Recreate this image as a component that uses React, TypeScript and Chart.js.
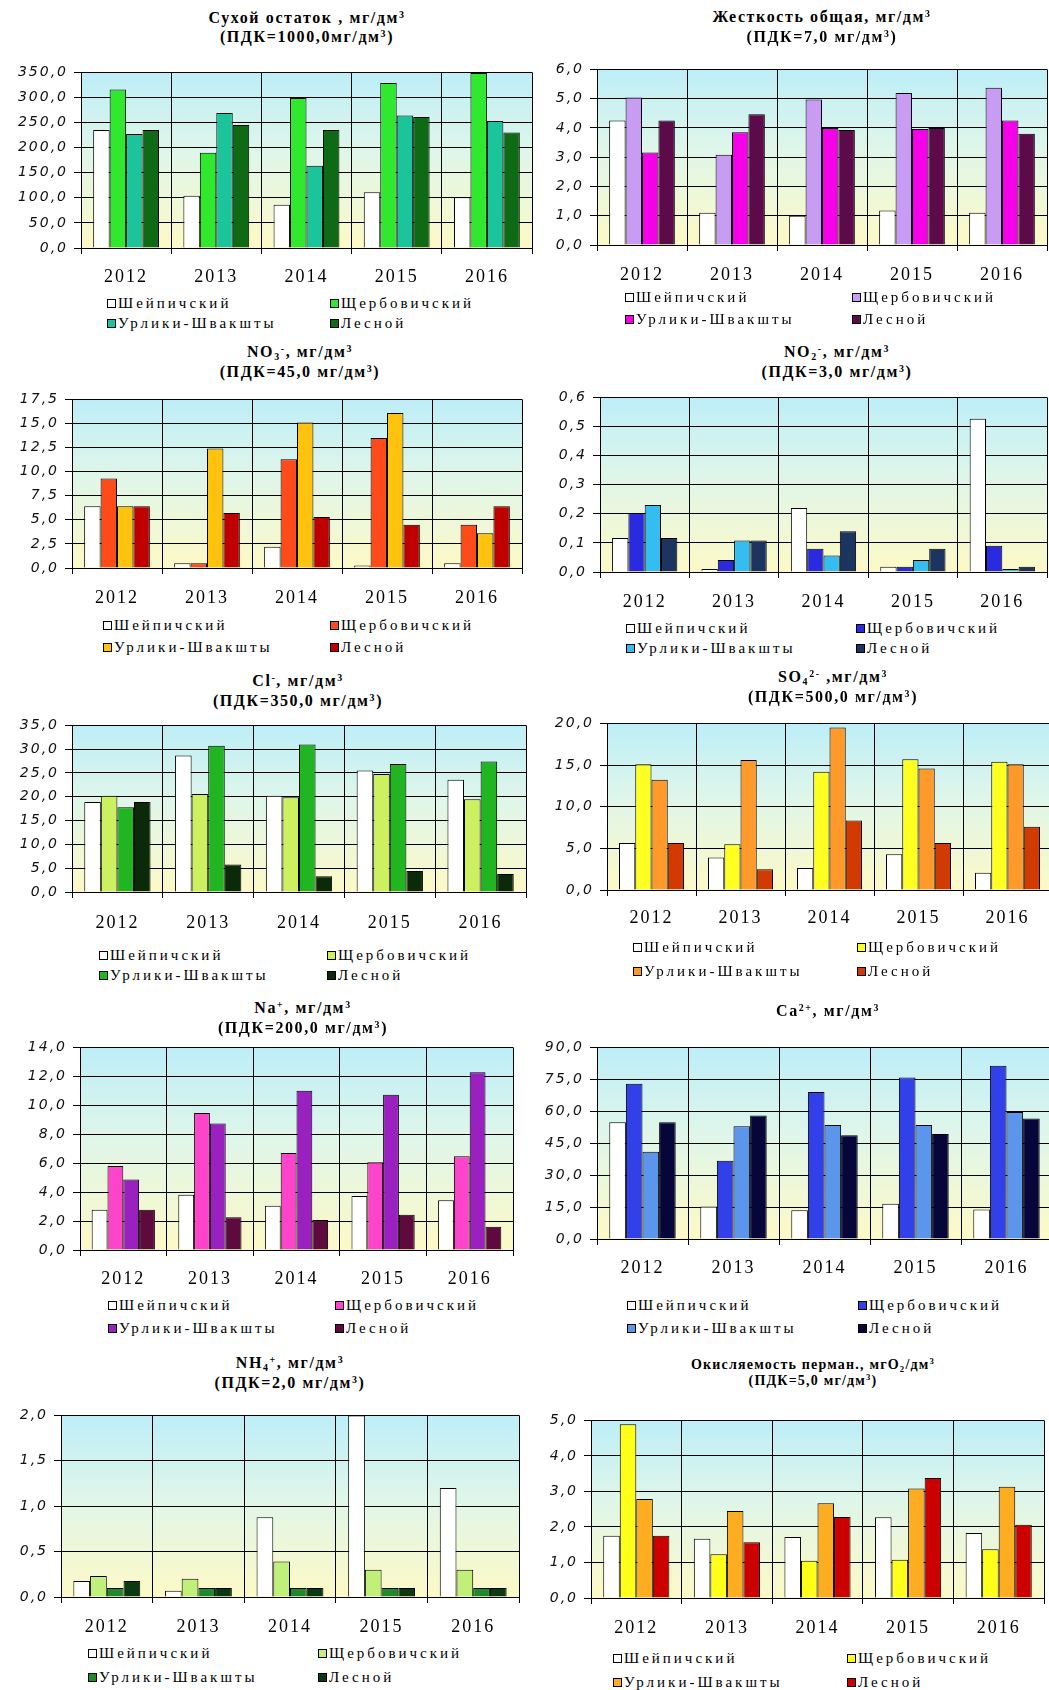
import React, { useEffect, useRef } from 'react';
import { Chart, registerables } from 'chart.js';

Chart.register(...registerables);

// ---------- data ----------
const YEARS = ['2012', '2013', '2014', '2015', '2016'];
const SITES = ['Шейпичский', 'Щербовичский', 'Урлики-Швакшты', 'Лесной'];

// each: [Шейпичский, Щербовичский, Урлики-Швакшты, Лесной]
const DRY_RESIDUE = [
  [235, 104, 86, 111, 101],
  [316, 190, 299, 329, 349],
  [227, 269, 164, 264, 253],
  [235, 245, 235, 261, 230],
];
const HARDNESS = [
  [4.25, 1.1, 1.0, 1.18, 1.1],
  [5.04, 3.08, 4.97, 5.19, 5.37],
  [3.16, 3.85, 4.0, 3.96, 4.25],
  [4.25, 4.47, 3.93, 4.0, 3.8],
];
const NITRATE = [
  [6.4, 0.5, 2.2, 0.27, 0.5],
  [9.3, 0.5, 11.3, 13.5, 4.5],
  [6.4, 12.4, 15.1, 16.1, 3.6],
  [6.4, 5.7, 5.3, 4.5, 6.4],
];
const NITRITE = [
  [0.117, 0.01, 0.22, 0.018, 0.527],
  [0.203, 0.041, 0.08, 0.018, 0.09],
  [0.23, 0.108, 0.057, 0.041, 0.01],
  [0.117, 0.108, 0.14, 0.08, 0.018],
];
const CHLORIDE = [
  [18.9, 28.7, 20.2, 25.5, 23.6],
  [20.2, 20.6, 19.9, 24.8, 19.5],
  [17.8, 30.7, 31.0, 26.9, 27.4],
  [18.9, 5.8, 3.3, 4.4, 3.8],
];
const SULFATE = [
  [5.65, 3.9, 2.65, 4.3, 2.07],
  [15.1, 5.5, 14.2, 15.7, 15.4],
  [13.25, 15.6, 19.5, 14.6, 15.1],
  [5.65, 2.5, 8.35, 5.65, 7.6],
];
const SODIUM = [
  [2.78, 3.82, 3.05, 3.73, 3.43],
  [5.8, 9.46, 6.7, 6.07, 6.48],
  [4.88, 8.74, 11.0, 10.72, 12.28],
  [2.78, 2.26, 2.08, 2.44, 1.6],
];
const CALCIUM = [
  [54.8, 15.3, 13.5, 16.5, 13.9],
  [72.9, 36.7, 69.0, 75.9, 81.4],
  [41.0, 53.0, 53.6, 53.6, 59.7],
  [54.8, 58.0, 48.7, 49.3, 56.6],
];
const AMMONIUM = [
  [0.175, 0.07, 0.877, 2.0, 1.2],
  [0.23, 0.2, 0.39, 0.3, 0.3],
  [0.1, 0.1, 0.1, 0.1, 0.1],
  [0.175, 0.1, 0.1, 0.1, 0.1],
];
const OXIDABILITY = [
  [1.75, 1.67, 1.72, 2.27, 1.83],
  [4.89, 1.23, 1.05, 1.08, 1.37],
  [2.79, 2.45, 2.67, 3.08, 3.13],
  [1.75, 1.57, 2.28, 3.38, 2.06],
];

const SERIES = [DRY_RESIDUE, HARDNESS, NITRATE, NITRITE, CHLORIDE, SULFATE, SODIUM, CALCIUM, AMMONIUM, OXIDABILITY];
const Y_MAX = [350, 6, 17.5, 0.6, 35, 20, 14, 90, 2, 5];
const Y_STEP = [50, 1, 2.5, 0.1, 5, 5, 2, 15, 0.5, 1];

const TITLES = [
  ['Сухой остаток , мг/дм^{3}', '(ПДК=1000,0мг/дм^{3})'],
  ['Жесткость общая, мг/дм^{3}', '(ПДК=7,0 мг/дм^{3})'],
  ['NO_{3}^{-}, мг/дм^{3}', '(ПДК=45,0 мг/дм^{3})'],
  ['NO_{2}^{-}, мг/дм^{3}', '(ПДК=3,0 мг/дм^{3})'],
  ['Cl^{-}, мг/дм^{3}', '(ПДК=350,0 мг/дм^{3})'],
  ['SO_{4}^{2-} ,мг/дм^{3}', '(ПДК=500,0 мг/дм^{3})'],
  ['Na^{+}, мг/дм^{3}', '(ПДК=200,0 мг/дм^{3})'],
  ['Ca^{2+}, мг/дм^{3}'],
  ['NH_{4}^{+}, мг/дм^{3}', '(ПДК=2,0 мг/дм^{3})'],
  ['Окисляемость перман., мгO_{2}/дм^{3}', '(ПДК=5,0 мг/дм^{3})'],
];

// ---------- styles ----------
const SERIF = "'Liberation Serif', 'Times New Roman', 'DejaVu Serif', serif";
const ITALIC_SANS = "'DejaVu Sans', Verdana, sans-serif";

const PALETTES = [
  ['#ffffff', '#30e82e', '#1cc49c', '#0f6a16'],
  ['#ffffff', '#c89cf2', '#f500e8', '#5c0a4a'],
  ['#ffffff', '#ff4a1a', '#ffc20e', '#c00000'],
  ['#ffffff', '#2a2ae0', '#33bdf0', '#1b3560'],
  ['#ffffff', '#ccf060', '#22b522', '#0a2a0a'],
  ['#ffffff', '#ffff22', '#ff9a2a', '#d13a00'],
  ['#ffffff', '#ff44cc', '#9a20c0', '#5e0a3e'],
  ['#ffffff', '#3240ea', '#5c96ec', '#06063a'],
  ['#ffffff', '#c0f07a', '#1f8a2a', '#0b3a10'],
  ['#ffffff', '#ffff1a', '#ffad20', '#cc0000'],
];

type Lay = {
  col: number; L: number; T: number; R: number; B: number; xl: number;
  lg: number[]; lc: number[]; ty: number[]; tx: number; tf: number;
};
const LAYOUT: Lay[] = [
  { col: 0, L: 81, T: 68, R: 532, B: 248, xl: 277, lg: [303, 323], lc: [107, 330], ty: [18, 37], tx: 307, tf: 16 },
  { col: 525, L: 597, T: 65, R: 1047, B: 245, xl: 275, lg: [297, 319], lc: [625, 852], ty: [17, 37], tx: 822, tf: 16 },
  { col: 0, L: 72, T: 395, R: 522, B: 568, xl: 598, lg: [625, 647], lc: [103, 330], ty: [352, 372], tx: 300, tf: 16 },
  { col: 525, L: 600, T: 393, R: 1047, B: 572, xl: 602, lg: [628, 648], lc: [626, 856], ty: [352, 372], tx: 837, tf: 16 },
  { col: 0, L: 72, T: 721, R: 526, B: 892, xl: 923, lg: [955, 975], lc: [99, 327], ty: [681, 701], tx: 298, tf: 16 },
  { col: 525, L: 607, T: 719, R: 1052, B: 890, xl: 918, lg: [947, 971], lc: [633, 857], ty: [677, 697], tx: 833, tf: 16 },
  { col: 0, L: 80, T: 1043, R: 513, B: 1250, xl: 1279, lg: [1305, 1328], lc: [108, 335], ty: [1008, 1028], tx: 303, tf: 16 },
  { col: 525, L: 597, T: 1043, R: 1052, B: 1239, xl: 1268, lg: [1305, 1328], lc: [627, 858], ty: [1011], tx: 828, tf: 16 },
  { col: 0, L: 61, T: 1411, R: 519, B: 1597, xl: 1627, lg: [1653, 1677], lc: [88, 318], ty: [1363, 1383], tx: 290, tf: 16 },
  { col: 525, L: 591, T: 1416, R: 1044, B: 1598, xl: 1628, lg: [1658, 1682], lc: [613, 847], ty: [1365, 1381], tx: 813, tf: 14 },
];

const PT = 10;
const PR = 1;

const bgPlugin = {
  id: 'plotBg',
  beforeDraw(chart: any) {
    const { ctx, chartArea: a } = chart;
    (ctx as any).letterSpacing = '2px';
    const g = ctx.createLinearGradient(0, a.top, 0, a.bottom);
    g.addColorStop(0, '#bdeef8');
    g.addColorStop(0.45, '#dff6ea');
    g.addColorStop(1, '#fdf9c6');
    ctx.save();
    ctx.fillStyle = g;
    ctx.fillRect(a.left, a.top, a.right - a.left, a.bottom - a.top);
    ctx.restore();
  },
};

function Rich({ text }: { text: string }) {
  const parts = text.split(/(\^\{[^}]*\}|_\{[^}]*\})/);
  return (
    <>
      {parts.map((p, i) => {
        if (p.startsWith('^{'))
          return <span key={i} style={{ fontSize: '0.62em', position: 'relative', top: '-0.55em' }}>{p.slice(2, -1)}</span>;
        if (p.startsWith('_{'))
          return <span key={i} style={{ fontSize: '0.62em', position: 'relative', top: '0.3em' }}>{p.slice(2, -1)}</span>;
        return <span key={i}>{p}</span>;
      })}
    </>
  );
}

function Panel({ idx }: { idx: number }) {
  const ref = useRef<HTMLCanvasElement>(null);
  const lay = LAYOUT[idx];
  const XH = lay.xl - lay.B + 16;
  const cw = lay.R - lay.col + PR;
  const ch = PT + (lay.B - lay.T) + XH;

  useEffect(() => {
    if (!ref.current) return;
    const values = SERIES[idx];
    const colors = PALETTES[idx];
    const chart = new Chart(ref.current, {
      type: 'bar',
      data: {
        labels: YEARS,
        datasets: SITES.map((name, i) => ({
          label: name,
          data: values[i],
          backgroundColor: colors[i],
          borderColor: '#000000',
          borderWidth: 1,
          categoryPercentage: 0.73,
          barPercentage: 1,
        })),
      },
      options: {
        animation: false,
        responsive: false,
        maintainAspectRatio: false,
        devicePixelRatio: 1,
        layout: { padding: { top: PT, right: PR, left: 0, bottom: 0 } },
        plugins: { legend: { display: false }, title: { display: false }, tooltip: { enabled: false } },
        scales: {
          x: {
            offset: true,
            grid: { color: '#000000', lineWidth: 1, offset: true, drawTicks: true, tickLength: 6 },
            border: { color: '#000000', width: 1 },
            ticks: {
              color: '#000000',
              font: { family: SERIF, size: 18 },
              padding: lay.xl - lay.B - 6 - 10.8,
              autoSkip: false,
              maxRotation: 0,
              minRotation: 0,
            },
            afterFit: (s: any) => { s.height = XH; },
          },
          y: {
            min: 0,
            max: Y_MAX[idx],
            grid: { color: '#000000', lineWidth: 1, drawTicks: true, tickLength: 7 },
            border: { color: '#000000', width: 1 },
            ticks: {
              stepSize: Y_STEP[idx],
              color: '#111111',
              font: { family: ITALIC_SANS, style: 'italic', size: 14 },
              padding: 6,
              callback: (v: any) => Number(v).toFixed(1).replace('.', ','),
            },
            afterFit: (s: any) => { s.width = lay.L - lay.col; },
          },
        },
      },
      plugins: [bgPlugin],
    } as any);
    return () => chart.destroy();
  }, [idx]);

  return (
    <>
      <canvas
        ref={ref}
        width={cw}
        height={ch}
        style={{ position: 'absolute', left: lay.col, top: lay.T - PT, width: cw, height: ch }}
      />
      {TITLES[idx].map((t, i) => (
        <div
          key={'t' + i}
          style={{
            position: 'absolute',
            left: lay.tx - 260,
            width: 520,
            top: lay.ty[i] - 10,
            height: 20,
            lineHeight: '20px',
            textAlign: 'center',
            fontFamily: SERIF,
            fontWeight: 'bold',
            fontSize: lay.tf,
            letterSpacing: idx === 9 ? '1.2px' : '1.6px',
            color: '#000',
            whiteSpace: 'nowrap',
          }}
        >
          <Rich text={t} />
        </div>
      ))}
      {SITES.map((name, i) => {
        const row = Math.floor(i / 2);
        const colI = i % 2;
        return (
          <div
            key={'l' + i}
            style={{
              position: 'absolute',
              left: lay.lc[colI],
              top: lay.lg[row] - 10,
              height: 20,
              display: 'flex',
              alignItems: 'center',
              fontFamily: SERIF,
              fontSize: 15,
              letterSpacing: '3px',
              color: '#000',
              whiteSpace: 'nowrap',
            }}
          >
            <span
              style={{
                display: 'inline-block',
                width: 7,
                height: 7,
                border: '1px solid #000',
                background: PALETTES[idx][i],
                marginRight: 2,
              }}
            />
            <span>{name}</span>
          </div>
        );
      })}
    </>
  );
}

export default function App() {
  return (
    <div
      style={{
        position: 'absolute',
        left: 0,
        top: 0,
        width: 1049,
        height: 1690,
        overflow: 'hidden',
        background: '#ffffff',
      }}
    >
      {LAYOUT.map((_, i) => (
        <Panel key={i} idx={i} />
      ))}
    </div>
  );
}
